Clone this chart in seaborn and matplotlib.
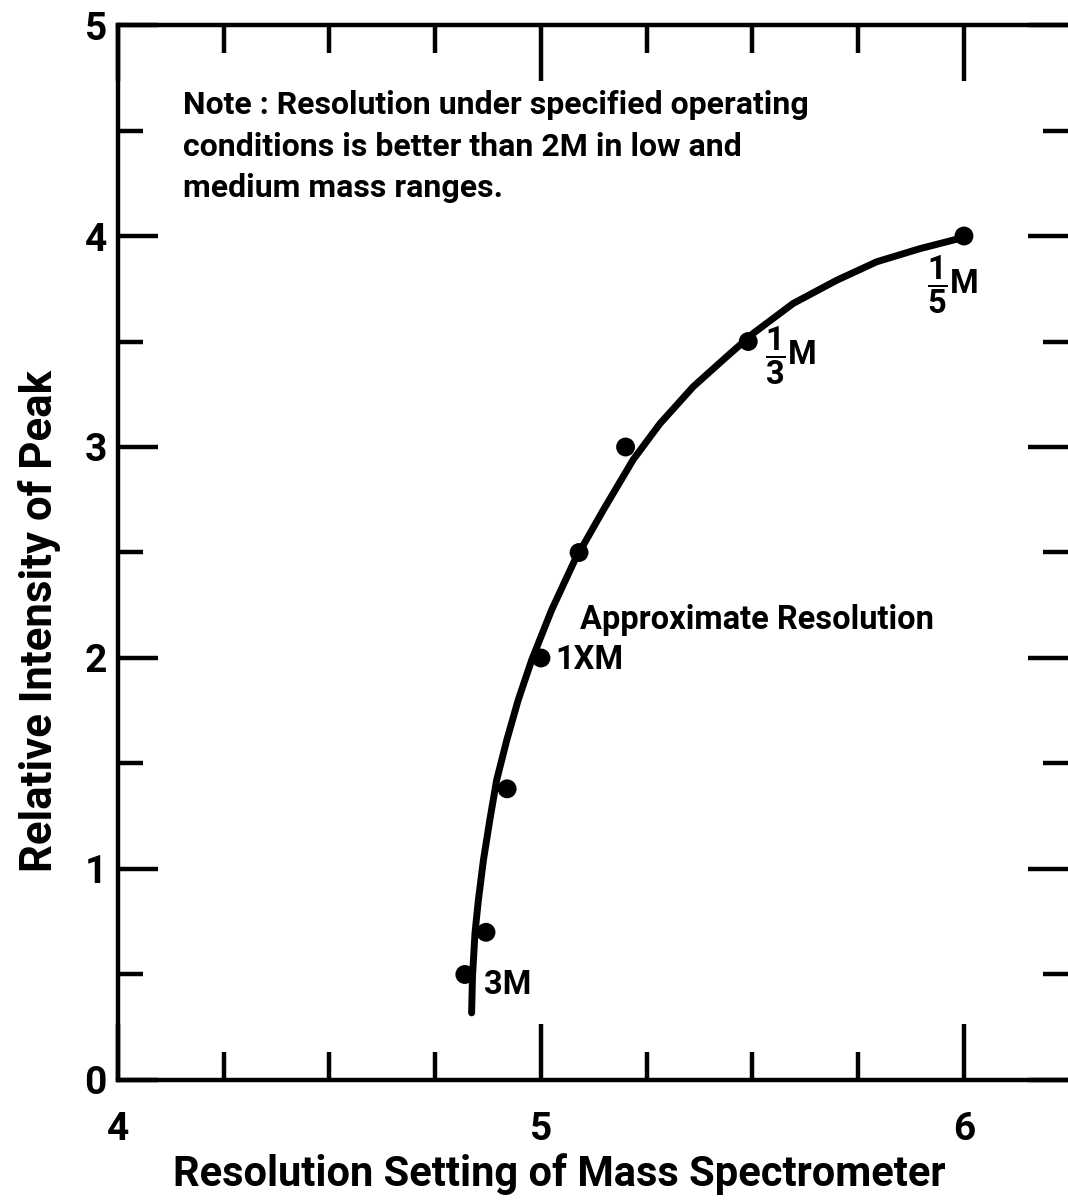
import matplotlib
matplotlib.use("Agg")
import matplotlib.pyplot as plt
import seaborn as sns
import pandas as pd
from matplotlib.ticker import MultipleLocator, FixedLocator

# ---- data ----
point_x = [4.82, 4.87, 4.92, 5.00, 5.09, 5.20, 5.49, 6.00]
point_y = [0.50, 0.70, 1.38, 2.00, 2.50, 3.00, 3.50, 4.00]

curve_x = [4.836, 4.838, 4.844, 4.852, 4.864, 4.879, 4.895, 4.919, 4.946,
           4.978, 5.025, 5.080, 5.147, 5.218, 5.281, 5.360, 5.439, 5.502,
           5.596, 5.699, 5.794, 5.896, 5.991]
curve_y = [0.318, 0.488, 0.697, 0.853, 1.043, 1.232, 1.420, 1.610, 1.800,
           1.990, 2.227, 2.464, 2.700, 2.940, 3.110, 3.286, 3.428, 3.539,
           3.680, 3.790, 3.878, 3.940, 3.989]

x_tick_labels = ["4", "5", "6"]
y_tick_labels = ["0", "1", "2", "3", "4", "5"]

note_text = ("Note : Resolution under specified operating\n"
             "conditions is better than 2M in low and\n"
             "medium mass ranges.")
approx_text = "Approximate Resolution"
res_labels = ["3M", "1XM", r"$\dfrac{1}{3}$M", r"$\dfrac{1}{5}$M"]

x_label = "Resolution Setting of Mass Spectrometer"
y_label = "Relative Intensity of Peak"

# ---- styling ----
sns.set_theme(style="white")
FONT = ["Roboto", "DejaVu Sans"]
plt.rcParams["font.family"] = FONT
plt.rcParams["font.weight"] = "bold"
plt.rcParams["text.color"] = "black"
plt.rcParams["axes.labelcolor"] = "black"
plt.rcParams["xtick.color"] = "black"
plt.rcParams["ytick.color"] = "black"
plt.rcParams["mathtext.fontset"] = "custom"
plt.rcParams["mathtext.rm"] = "Roboto:bold"
plt.rcParams["mathtext.it"] = "Roboto:bold"
plt.rcParams["mathtext.bf"] = "Roboto:bold"

fig = plt.figure(figsize=(10.68, 12.02), dpi=100)
ax = fig.add_axes([0.1105, 0.1015, 0.8895, 0.8777])

curve_df = pd.DataFrame({"x": curve_x, "y": curve_y})
pts_df = pd.DataFrame({"x": point_x, "y": point_y})

sns.lineplot(data=curve_df, x="x", y="y", ax=ax, color="black", lw=5,
             estimator=None, sort=False, solid_capstyle="round",
             solid_joinstyle="round")
sns.scatterplot(data=pts_df, x="x", y="y", ax=ax, color="black", s=185,
                edgecolor="none", zorder=5)

ax.set_xlim(4, 6.246)
ax.set_ylim(0, 5)

for side in ["left", "bottom", "top"]:
    ax.spines[side].set_visible(True)
    ax.spines[side].set_linewidth(3.2)
    ax.spines[side].set_color("black")
ax.spines["right"].set_visible(False)

ax.xaxis.set_major_locator(FixedLocator([4, 5, 6]))
ax.xaxis.set_minor_locator(MultipleLocator(0.25))
ax.set_xticklabels(x_tick_labels)
ax.yaxis.set_major_locator(FixedLocator([0, 1, 2, 3, 4, 5]))
ax.yaxis.set_minor_locator(MultipleLocator(0.5))
ax.set_yticklabels(y_tick_labels)

ax.tick_params(axis="x", which="major", direction="in", length=40, width=3.2,
               top=True, bottom=True, labelsize=28, pad=22, color="black",
               labelcolor="black")
ax.tick_params(axis="x", which="minor", direction="in", length=20, width=3.2,
               top=True, bottom=True, color="black")
ax.tick_params(axis="y", which="major", direction="in", length=29, width=3.2,
               left=True, right=True, labelsize=28, pad=8, color="black",
               labelcolor="black")
ax.tick_params(axis="y", which="minor", direction="in", length=18, width=3.2,
               left=True, right=True, color="black")

ax.set_xlabel(x_label, fontsize=30, fontweight="bold", va="center",
              color="black")
ax.xaxis.set_label_coords(0.464, -0.089)
ax.set_ylabel(y_label, fontsize=31.5, fontweight="bold", va="center",
              color="black")
ax.yaxis.set_label_coords(-0.083, 0.435)

txt_kw = dict(color="black", fontweight="bold")
FS = 23.5
ax.text(4.154, 4.69, note_text, fontsize=23, va="top", ha="left",
        linespacing=1.47, **txt_kw)
ax.text(5.092, 2.18, approx_text, fontsize=FS, va="center", ha="left", **txt_kw)
ax.text(4.865, 0.45, res_labels[0], fontsize=FS, va="center", ha="left", **txt_kw)
ax.text(5.035, 1.99, res_labels[1], fontsize=FS, va="center", ha="left", **txt_kw)
ax.text(5.53, 3.43, res_labels[2], fontsize=FS, va="center", ha="left", **txt_kw)
ax.text(5.912, 3.77, res_labels[3], fontsize=FS, va="center", ha="left", **txt_kw)

fig.savefig("out.png", dpi=100, facecolor="white")
